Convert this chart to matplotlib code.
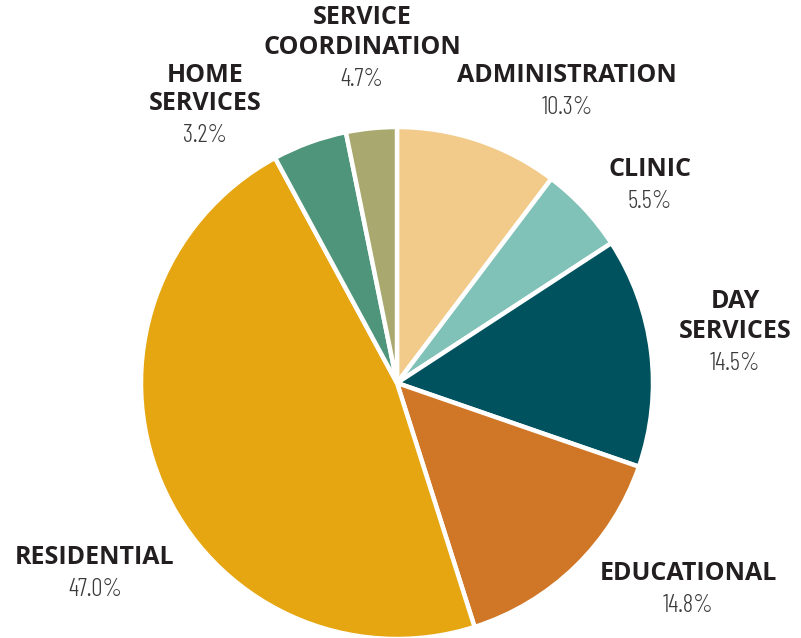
import matplotlib
matplotlib.use("Agg")
import matplotlib.pyplot as plt

categories = ["ADMINISTRATION", "CLINIC", "DAY\nSERVICES", "EDUCATIONAL",
              "RESIDENTIAL", "HOME\nSERVICES", "SERVICE\nCOORDINATION"]
# slice values drawn clockwise from 12 o'clock
slice_values = [10.3, 5.5, 14.5, 14.8, 47.0, 4.7, 3.2]
slice_colors = ["#F2CB8A", "#80C1B8", "#00525E", "#D07727", "#E6A612", "#4E957C", "#A9A96F"]
# labels as printed
label_texts = ["ADMINISTRATION", "CLINIC", "DAY\nSERVICES", "EDUCATIONAL",
               "RESIDENTIAL", "HOME\nSERVICES", "SERVICE\nCOORDINATION"]
label_pcts = ["10.3%", "5.5%", "14.5%", "14.8%", "47.0%", "3.2%", "4.7%"]
# label centers (px from top-left): position of first line
label_pos = [(567, 75), (650, 170), (735, 302), (688, 573), (95, 558), (205, 75), (362, 18)]

W, H = 801, 638
fig = plt.figure(figsize=(W / 100, H / 100), dpi=100)
ax = fig.add_axes([0, 0, 1, 1])

ax.pie(slice_values, colors=slice_colors, startangle=90, counterclock=False,
       center=(397, H - 383), radius=256, frame=True,
       wedgeprops=dict(edgecolor="white", linewidth=3.2))
ax.set_xlim(0, W)
ax.set_ylim(0, H)
ax.set_aspect("equal")
ax.axis("off")

bold_family = ["Open Sans", "DejaVu Sans"]
pct_family = ["Barlow Condensed", "Roboto Condensed", "DejaVu Sans"]
line_h = 29
for txt, pct, (x, y) in zip(label_texts, label_pcts, label_pos):
    lines = txt.split("\n")
    for i, ln in enumerate(lines):
        ax.text(x, H - (y + i * line_h), ln, ha="center", va="center",
                fontsize=18, fontweight="bold", family=bold_family, color="#231F20")
    py = y + (len(lines) - 1) * line_h + 32
    ax.text(x, H - py, pct, ha="center", va="center",
            fontsize=18, fontweight=300, family=pct_family, color="#3A3A3A")

fig.savefig("out.png", dpi=100, facecolor="white")
